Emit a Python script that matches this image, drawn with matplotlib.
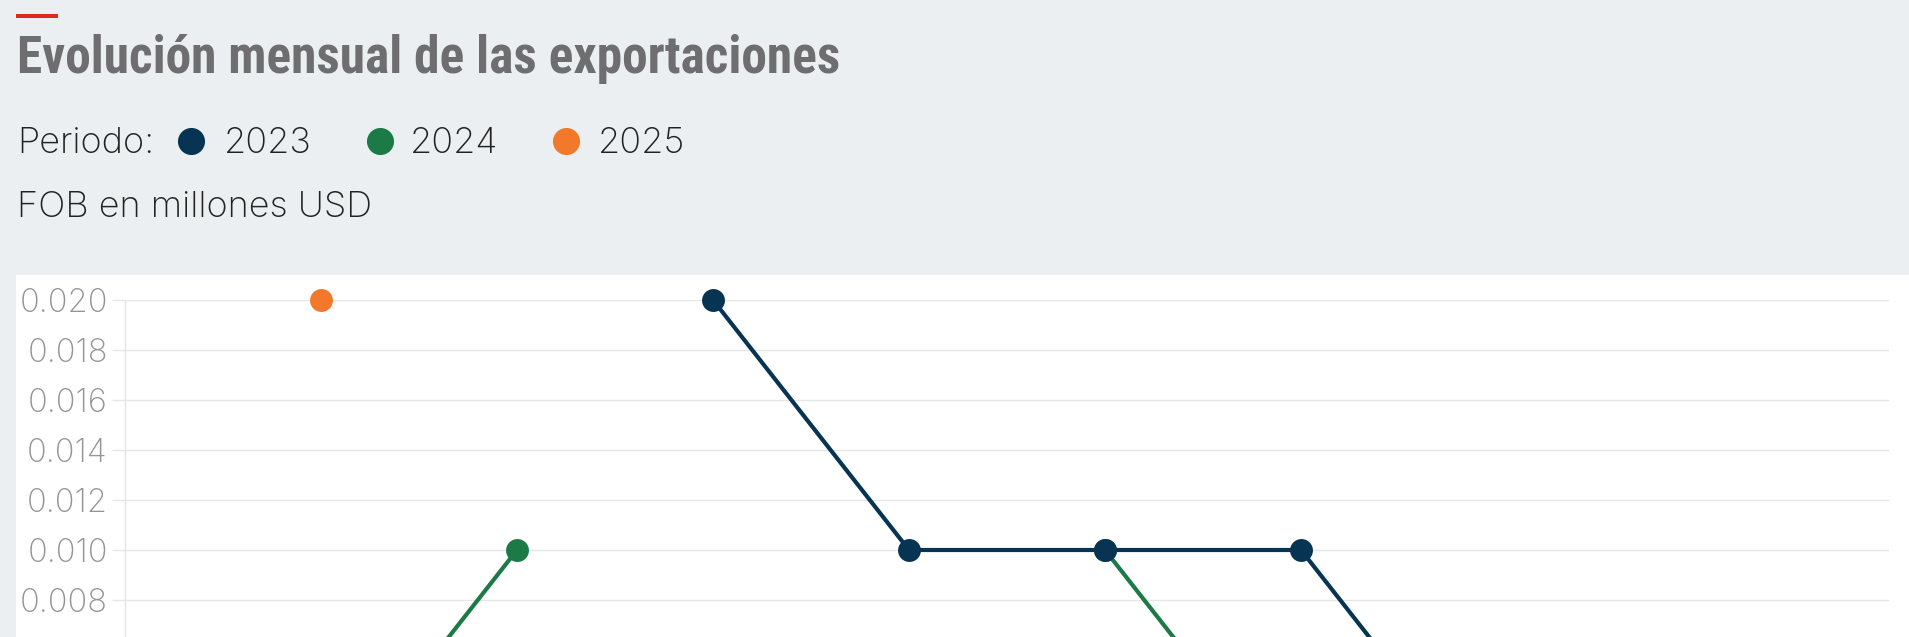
import numpy as np
import matplotlib
matplotlib.use("Agg")
import matplotlib.pyplot as plt
from matplotlib.lines import Line2D
from matplotlib.patches import Rectangle

#==========================
# Datos (FOB en millones USD)
#==========================
meses = ['Ene', 'Feb', 'Mar', 'Abr', 'May', 'Jun', 'Jul', 'Ago', 'Sep', 'Oct']
nan = np.nan
exp_2023 = [nan, nan, nan, 0.020, 0.010, 0.010, 0.010, 0.0, 0.0, 0.0]
exp_2024 = [0.0, 0.0, 0.010, nan, nan, 0.010, 0.0, 0.0, 0.0, 0.0]
exp_2025 = [nan, 0.020, nan, nan, nan, nan, nan, nan, nan, nan]
periodos = ['2023', '2024', '2025']
colores = ['#063452', '#1b7a45', '#f2782a']
yticks = [0.000, 0.002, 0.004, 0.006, 0.008, 0.010, 0.012, 0.014, 0.016, 0.018, 0.020]

#==========================
# Figura en pixeles
#==========================
W, H = 1909, 637
plt.rcParams['font.family'] = ['Inter', 'DejaVu Sans']

fig = plt.figure(figsize=(W / 100, H / 100), dpi=100, facecolor='#eceff2')

def fx(x):
    return x / W

def fy(y):
    return 1 - y / H

# panel blanco del grafico
fig.patches.append(Rectangle((fx(16), 0), 1 - fx(16), fy(275), transform=fig.transFigure,
                             facecolor='white', edgecolor='none', zorder=-5))
# barrita roja
fig.patches.append(Rectangle((fx(16), fy(18)), fx(42), 4 / H, transform=fig.transFigure,
                             facecolor='#dd2a1f', edgecolor='none', zorder=-4))

fig.text(fx(17), fy(73), 'Evolución mensual de las exportaciones',
         family=['Roboto Condensed', 'Liberation Sans Narrow', 'Roboto', 'DejaVu Sans'],
         fontweight='bold', fontsize=37, color='#6e6e70', va='baseline', ha='left')

# leyenda manual
txt_kw = dict(fontsize=26, fontweight='light', color='#222222', va='baseline', ha='left')
fig.text(fx(17), fy(153), 'Periodo:', **txt_kw)
leg_dots = [191, 380, 566]
leg_txt = [224, 410, 598]
for p, c, xd, xt in zip(periodos, colores, leg_dots, leg_txt):
    fig.add_artist(Line2D([fx(xd)], [fy(141)], marker='o', markersize=19.5, color=c,
                          markeredgewidth=0, transform=fig.transFigure))
    fig.text(fx(xt), fy(153), p, **txt_kw)

fig.text(fx(17), fy(217), 'FOB en millones USD', **txt_kw)

#==========================
# Ejes (la parte de abajo queda fuera de la imagen)
#==========================
x0, x1 = 125, 1889
y_top, y_zero = 300, 800
ax = fig.add_axes([fx(x0), fy(y_zero), (x1 - x0) / W, (y_zero - y_top) / H])
ax.set_facecolor('none')

xs = np.arange(len(meses))
for serie, c, z in zip([exp_2024, exp_2025, exp_2023], [colores[1], colores[2], colores[0]], [3, 4, 5]):
    ax.plot(xs, serie, color=c, lw=3.0, marker='o', markersize=16.5,
            markeredgewidth=0, clip_on=False, zorder=z)

ax.set_xlim(0, len(meses) - 1)
ax.set_ylim(0, 0.020)
ax.set_yticks(yticks)
ax.set_yticklabels(['{:.3f}'.format(v) for v in yticks])
ax.set_xticks([])
ax.grid(axis='y', color='#e6e6e6', lw=1.0)
ax.set_axisbelow(True)
for s in ['top', 'right', 'bottom']:
    ax.spines[s].set_visible(False)
ax.spines['left'].set_color('#e6e6e6')
ax.spines['left'].set_linewidth(1.0)
ax.tick_params(axis='y', length=9.4, width=1.0, color='#e6e6e6', pad=3,
               labelsize=23.5, labelcolor='#959595')
for lbl in ax.get_yticklabels():
    lbl.set_fontweight('light')

fig.savefig('out.png', dpi=100)
